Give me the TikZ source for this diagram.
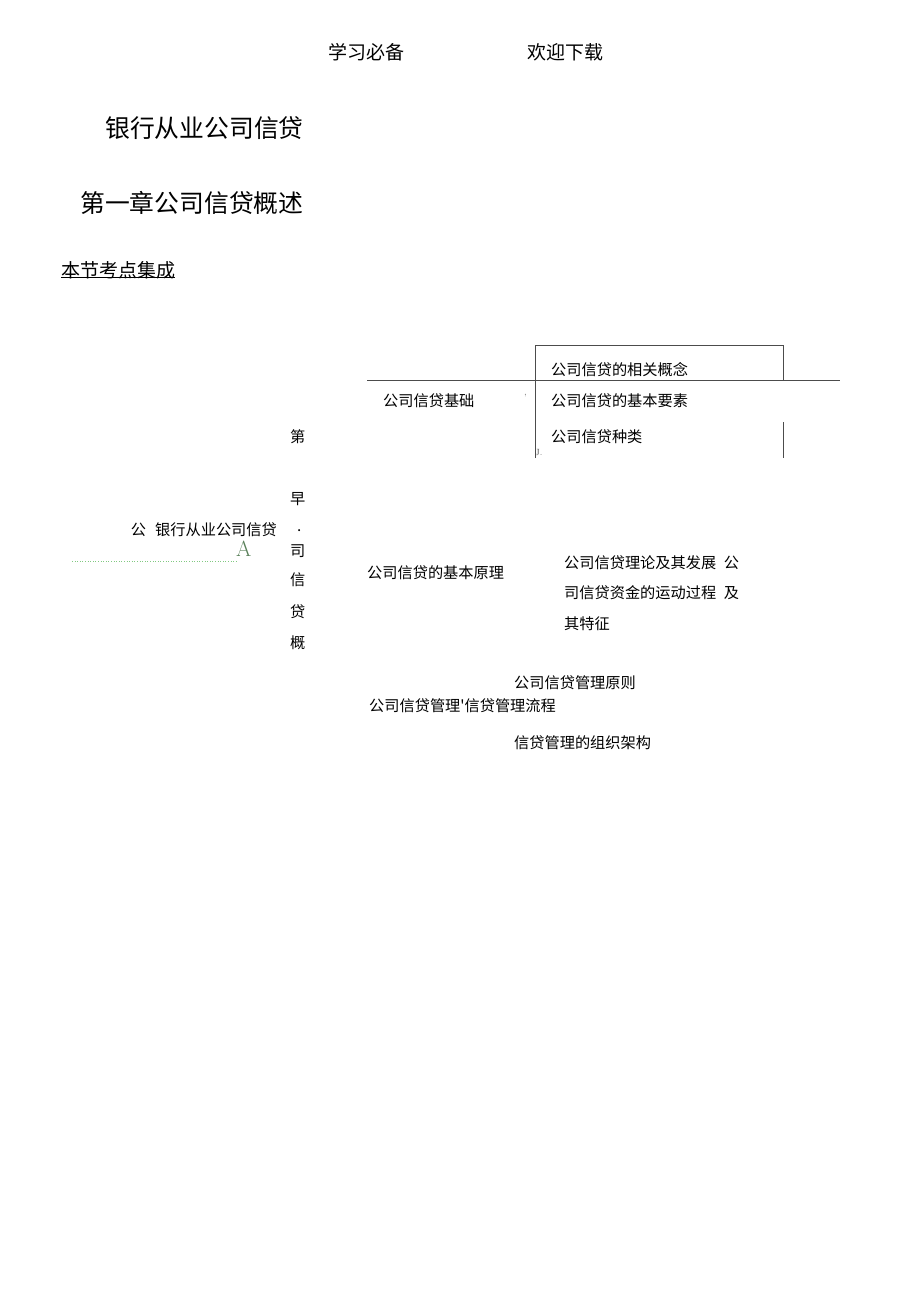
\documentclass[tikz,border=0pt]{standalone}
\usepackage{fontspec}
\newfontfamily\cjk{Noto Sans CJK SC}
\usetikzlibrary{positioning}

\begin{document}
\begin{tikzpicture}[x=1pt,y=-1pt,
		txt/.style = {anchor=west,inner sep=0pt,font=\cjk\fontsize{15.2}{15.2}\selectfont},
		head/.style = {anchor=west,inner sep=0pt,font=\cjk\fontsize{19}{19}\selectfont},
		big/.style = {anchor=west,inner sep=0pt,font=\cjk\fontsize{24.8}{24.8}\selectfont},
		tinymark/.style = {anchor=west,inner sep=0pt,font=\fontsize{9}{9}\selectfont,text=black!70},
		rule/.style = {draw=black!70,line width=0.8pt}]
		\useasboundingbox (0,0) rectangle (920,1301);
		% page header and titles
		\node[head] at (328,52) (h1) {学习必备};
		\node[head] at (527,52) (h2) {欢迎下载};
		\node[big] at (105,128) (t1) {银行从业公司信贷};
		\node[big] at (80,203) (t2) {第一章公司信贷概述};
		\node[head] at (61,270) (sec) {本节考点集成};
		\draw[black,line width=0.9pt] ([yshift=2pt]sec.south west) to ([yshift=2pt]sec.south east);
		% left part
		\node[txt,anchor=east] at (277,530) (root) {公\hspace{0.6em}银行从业公司信贷};
		\node[anchor=west,inner sep=0pt,font=\fontsize{22}{22}\selectfont,text=black!50!green!30!gray] at (236,549) (a) {A};
		\coordinate (d0) at (72,561);
		\coordinate (d1) at (236,561);
		\draw[green!40!gray!70,dotted,line width=0.6pt] (d0) to (d1);
		% vertical chapter column
		\node[txt] at (290,437) (v1) {第};
		\node[txt] at (290,499) (v2) {早};
		\node[txt] at (297,531) (v3) {.};
		\node[txt] at (290,551) (v4) {司};
		\node[txt] at (290,580) (v5) {信};
		\node[txt] at (290,612) (v6) {贷};
		\node[txt] at (290,643) (v7) {概};
		% first branch
		\coordinate (b0) at (535,345);
		\coordinate (b1) at (783,345);
		\coordinate (b2) at (783,380);
		\coordinate (b3) at (535,458);
		\coordinate (b4) at (783,422);
		\coordinate (b5) at (783,458);
		\coordinate (l0) at (367,380);
		\coordinate (l1) at (840,380);
		\draw[rule] (b3) -- (b0) -- (b1) -- (b2);
		\draw[rule] (b4) -- (b5);
		\draw[rule] (l0) -- (l1);
		\node[txt] at (383,401) (base) {公司信贷基础};
		\node[tinymark] at (524,397) (tick) {'};
		\node[txt] at (551,370) (c1) {公司信贷的相关概念};
		\node[txt] at (551,401) (c2) {公司信贷的基本要素};
		\node[txt] at (551,437) (c3) {公司信贷种类};
		\node[tinymark] at (535,453) (j) {J.};
		% second branch
		\node[txt] at (367,573) (prin) {公司信贷的基本原理};
		\node[txt] at (564,563) (p1) {公司信贷理论及其发展\hspace{0.5em}公};
		\node[txt] at (564,593) (p2) {司信贷资金的运动过程\hspace{0.5em}及};
		\node[txt] at (564,624) (p3) {其特征};
		% third branch
		\node[txt] at (514,683) (m1) {公司信贷管理原则};
		\node[txt] at (369,706) (mgmt) {公司信贷管理\textquotesingle 信贷管理流程};
		\node[txt] at (514,743) (m3) {信贷管理的组织架构};
	\end{tikzpicture}
\end{document}
